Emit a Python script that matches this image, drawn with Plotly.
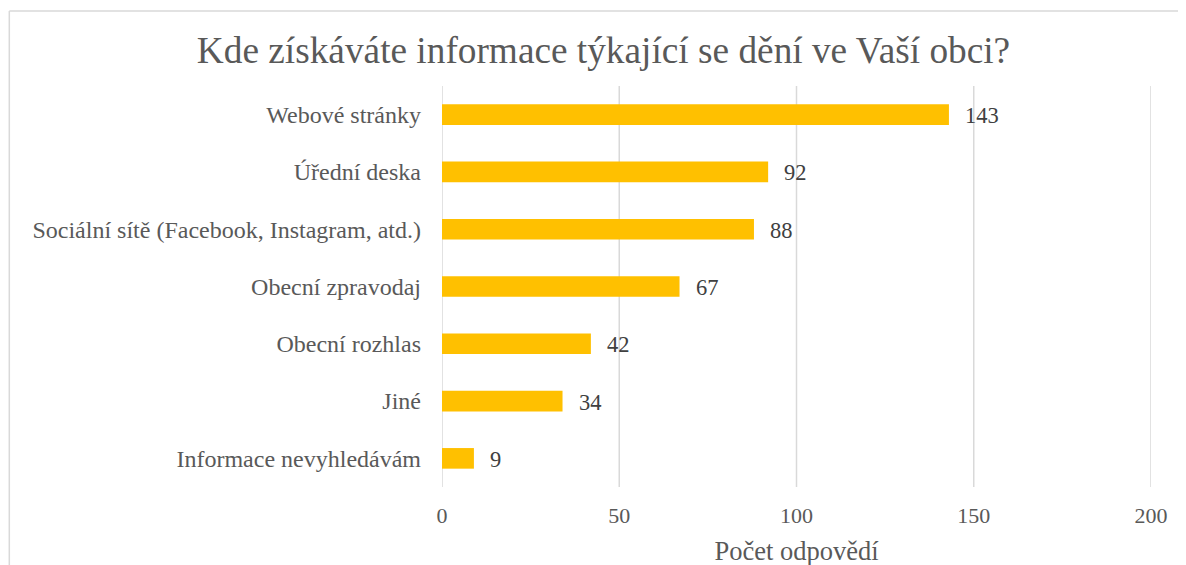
import plotly.graph_objects as go

categories = ["Webové stránky", "Úřední deska", "Sociální sítě (Facebook, Instagram, atd.)",
              "Obecní zpravodaj", "Obecní rozhlas", "Jiné", "Informace nevyhledávám"]
values = [143, 92, 88, 67, 42, 34, 9]
x_ticks = [0, 50, 100, 150, 200]

FONT = "Liberation Serif, Times New Roman, serif"
W, H = 1186, 565
# page offset of 8px (body margin) taken into account
L, R, T, B = 433.5, 43, 78, 86
pw = W - L - R
ph = H - T - B

fig = go.Figure()
fig.add_trace(go.Bar(
    x=values, y=categories, orientation="h",
    marker=dict(color="#FFC000", line=dict(width=0)),
    width=0.36, hoverinfo="x+y",
))
for c, v in zip(categories, values):
    fig.add_annotation(x=v, y=c, text=str(v), showarrow=False, xanchor="left",
                       xshift=14, yshift=-1, font=dict(family=FONT, size=22.5, color="#404040"))

# vertical gridlines at every tick (including the range edges)
for t in x_ticks:
    fig.add_shape(type="line", xref="x", yref="paper", x0=t, x1=t, y0=0, y1=1,
                  layer="below", line=dict(color="#d9d9d9", width=1.5))

fig.update_layout(
    width=W, height=H,
    margin=dict(l=L, r=R, t=T, b=B, autoexpand=False),
    paper_bgcolor="white", plot_bgcolor="white",
    showlegend=False,
    title=dict(text="Kde získáváte informace týkající se dění ve Vaší obci?",
               x=595.5 / W, xref="container", xanchor="center",
               y=1 - 42 / H, yref="container", yanchor="middle",
               font=dict(family=FONT, size=37.3, color="#595959")),
    xaxis=dict(range=[0, 200], tickvals=x_ticks, showgrid=False,
               zeroline=False, showline=False, ticks="",
               tickfont=dict(family=FONT, size=22, color="#595959"),
               ticklabelstandoff=13,
               title=dict(text="Počet odpovědí", standoff=14,
                          font=dict(family=FONT, size=26.5, color="#595959"))),
    yaxis=dict(categoryorder="array", categoryarray=categories, autorange="reversed",
               showgrid=False, zeroline=False, showline=False, ticks="",
               tickfont=dict(family=FONT, size=24, color="#595959"),
               ticklabelstandoff=20),
    bargap=0.64,
)

# chart frame (left and top edges visible)
fx = (0.5 - L) / pw
fy = (H - B - 3) / ph
fig.add_shape(type="line", xref="paper", yref="paper", x0=fx, x1=fx, y0=fy, y1=-1,
              line=dict(color="#d9d9d9", width=1.5))
fig.add_shape(type="line", xref="paper", yref="paper", x0=fx, x1=2, y0=fy, y1=fy,
              line=dict(color="#d9d9d9", width=1.5))

fig.write_html("out.html")
